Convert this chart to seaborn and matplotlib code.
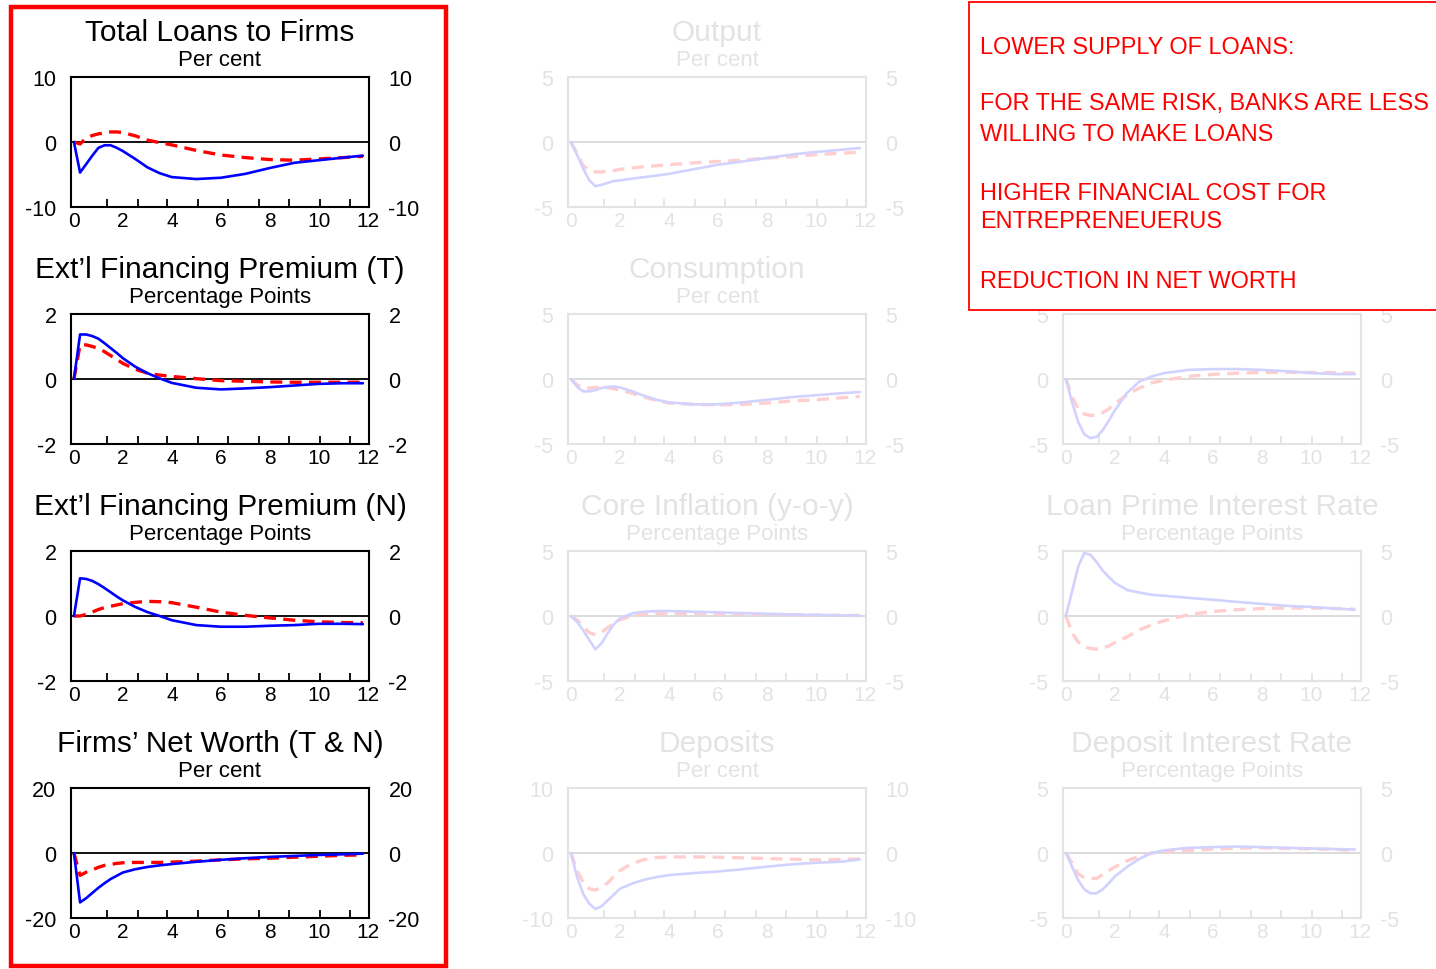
import matplotlib
matplotlib.use("Agg")
import matplotlib.pyplot as plt
import seaborn as sns
import pandas as pd
from matplotlib.patches import Rectangle

sns.set_style("white", {"xtick.bottom": True, "xtick.direction": "in"})
plt.rcParams["font.family"] = ["Liberation Sans", "DejaVu Sans"]
plt.rcParams["axes.unicode_minus"] = False

# horizon (years) at which the responses were read
quarters = [0, 0.25, 0.5, 0.75, 1, 1.25, 1.5, 1.75, 2, 2.5, 3, 3.5, 4,
            5, 6, 7, 8, 9, 10, 11, 11.8]

# column 1 (highlighted)
loans_solid = [0, -4.7, -3.4, -2.1, -0.9, -0.5, -0.5, -0.9, -1.4, -2.6, -3.9, -4.8, -5.4,
               -5.7, -5.5, -4.9, -4.0, -3.2, -2.8, -2.4, -2.1]
loans_dashed = [0, -0.3, 0.6, 1.0, 1.25, 1.4, 1.55, 1.55, 1.45, 0.95, 0.3, -0.1, -0.45,
                -1.3, -2.0, -2.4, -2.7, -2.8, -2.6, -2.4, -2.2]
premT_solid = [0, 1.37, 1.37, 1.32, 1.24, 1.1, 0.95, 0.8, 0.64, 0.38, 0.18, 0.02, -0.12,
               -0.27, -0.32, -0.29, -0.25, -0.2, -0.15, -0.13, -0.13]
premT_dashed = [0, 1.05, 1.05, 1.0, 0.94, 0.84, 0.72, 0.6, 0.48, 0.3, 0.18, 0.12, 0.08,
                0.01, -0.05, -0.07, -0.09, -0.1, -0.1, -0.1, -0.1]
premN_solid = [0, 1.16, 1.14, 1.08, 0.98, 0.86, 0.73, 0.6, 0.48, 0.28, 0.12, 0.0, -0.13,
               -0.28, -0.33, -0.33, -0.3, -0.28, -0.24, -0.24, -0.25]
premN_dashed = [0, 0.0, 0.05, 0.12, 0.2, 0.26, 0.3, 0.34, 0.38, 0.42, 0.45, 0.44, 0.41,
                0.27, 0.12, 0.02, -0.06, -0.13, -0.18, -0.2, -0.21]
networth_solid = [0, -15.2, -13.9, -12.3, -10.7, -9.3, -8.0, -7.0, -6.0, -5.0, -4.3, -3.8, -3.4,
                  -2.7, -2.1, -1.6, -1.2, -0.9, -0.6, -0.4, -0.2]
networth_dashed = [0, -6.9, -5.9, -5.2, -4.4, -3.8, -3.5, -3.2, -3.0, -2.9, -2.9, -2.9, -2.8,
                   -2.5, -2.1, -1.8, -1.6, -1.3, -1.0, -0.7, -0.6]

# column 2 (faded)
output_solid = [0, -1.0, -2.05, -2.95, -3.4, -3.3, -3.15, -3.0, -2.95, -2.82, -2.7, -2.58, -2.45,
                -2.1, -1.75, -1.5, -1.23, -0.97, -0.77, -0.6, -0.46]
output_dashed = [0, -0.9, -1.8, -2.2, -2.3, -2.3, -2.25, -2.2, -2.1, -2.0, -1.9, -1.82, -1.75,
                 -1.6, -1.5, -1.4, -1.23, -1.13, -0.97, -0.87, -0.77]
cons_solid = [0, -0.6, -0.95, -0.95, -0.85, -0.7, -0.6, -0.58, -0.65, -0.95, -1.3, -1.6, -1.8,
              -1.95, -1.95, -1.8, -1.6, -1.4, -1.25, -1.1, -1.0]
cons_dashed = [0, -0.45, -0.7, -0.7, -0.65, -0.65, -0.68, -0.75, -0.85, -1.1, -1.4, -1.65, -1.85,
               -1.95, -2.0, -1.95, -1.85, -1.7, -1.6, -1.45, -1.35]
infl_solid = [0, -0.45, -1.1, -1.85, -2.56, -2.1, -1.33, -0.64, -0.18, 0.2, 0.33, 0.38, 0.38,
              0.33, 0.28, 0.22, 0.17, 0.12, 0.08, 0.05, 0.03]
infl_dashed = [0, -0.3, -0.8, -1.28, -1.45, -1.25, -0.9, -0.56, -0.3, 0.03, 0.13, 0.18, 0.2,
               0.2, 0.18, 0.15, 0.12, 0.1, 0.07, 0.05, 0.04]
dep_solid = [0, -3.7, -6.3, -7.8, -8.6, -8.2, -7.3, -6.4, -5.5, -4.7, -4.1, -3.7, -3.4,
             -3.1, -2.85, -2.5, -2.1, -1.75, -1.5, -1.35, -1.0]
dep_dashed = [0, -2.7, -4.5, -5.5, -5.7, -5.3, -4.6, -3.6, -2.7, -1.6, -1.0, -0.7, -0.6,
              -0.6, -0.65, -0.75, -0.85, -0.95, -1.05, -1.0, -0.9]

# column 3 (faded, the top one is hidden under the note)
hidden_solid = [0, -1.8, -3.3, -4.25, -4.55, -4.45, -3.95, -3.2, -2.4, -1.06, -0.2, 0.2, 0.45,
                0.7, 0.76, 0.77, 0.7, 0.6, 0.46, 0.38, 0.38]
hidden_dashed = [0, -1.37, -2.28, -2.7, -2.8, -2.8, -2.6, -2.3, -1.9, -1.2, -0.7, -0.3, -0.1,
                 0.2, 0.36, 0.45, 0.5, 0.52, 0.5, 0.48, 0.45]
lprime_solid = [0, 1.9, 3.8, 4.85, 4.7, 4.15, 3.5, 3.0, 2.55, 2.0, 1.8, 1.63, 1.56,
                1.4, 1.25, 1.08, 0.93, 0.78, 0.7, 0.57, 0.49]
lprime_dashed = [0, -1.3, -2.0, -2.36, -2.5, -2.55, -2.5, -2.3, -2.05, -1.6, -1.07, -0.67, -0.37,
                 0.1, 0.35, 0.49, 0.57, 0.62, 0.62, 0.57, 0.52]
deprate_solid = [0, -1.06, -2.1, -2.8, -3.1, -3.1, -2.8, -2.33, -1.8, -1.06, -0.45, 0.0, 0.2,
                 0.4, 0.45, 0.5, 0.45, 0.4, 0.35, 0.3, 0.27]
deprate_dashed = [0, -0.75, -1.6, -1.9, -1.97, -1.95, -1.67, -1.36, -1.06, -0.6, -0.24, 0.0, 0.1,
                  0.2, 0.3, 0.38, 0.4, 0.35, 0.32, 0.27, 0.2]

note_lines = ["LOWER SUPPLY OF LOANS:", "FOR THE SAME RISK, BANKS ARE LESS",
              "WILLING TO MAKE LOANS", "HIGHER FINANCIAL COST FOR",
              "ENTREPRENEUERUS", "REDUCTION IN NET WORTH"]

W, H = 1436, 970
fig = plt.figure(figsize=(W / 100, H / 100), dpi=100)

COL_LEFT = [71, 568, 1063]
ROW_TOP = [78, 315, 552, 789]
AX_W, AX_H = 298, 130
minor_x = [0, 1.35, 2.6, 3.82, 5.05, 6.3, 7.55, 8.8, 10.03, 11.26]


def panel(row, col, title, unit, lim, solid, dashed, faded=False):
    rect = [COL_LEFT[col] / W, 1 - (ROW_TOP[row] + AX_H) / H, AX_W / W, AX_H / H]
    ax = fig.add_axes(rect)
    fg = "#e3e3e3" if faded else "black"
    blue = "#d2d2ff" if faded else "#0000ff"
    red = "#ffcfcf" if faded else "#ff0000"
    zero = "#d9d9d9" if faded else "black"

    df = pd.DataFrame({"t": quarters, "solid": solid, "dashed": dashed})
    ax.axhline(0, color=zero, lw=1.3, zorder=1)
    sns.lineplot(data=df, x="t", y="solid", ax=ax, color=blue, lw=1.9, zorder=3)
    sns.lineplot(data=df, x="t", y="dashed", ax=ax, color=red, lw=2.4,
                 linestyle=(0, (3.6, 2.2)), zorder=2)

    ax.set_xlim(-0.12, 12.05)
    ax.set_ylim(-lim, lim)
    ax.set_xlabel("")
    ax.set_ylabel("")
    ax.set_xticks(range(0, 13, 2))
    ax.set_xticks(minor_x, minor=True)
    ax.set_yticks([-lim, 0, lim])
    ax.tick_params(axis="x", which="major", bottom=True, length=0, pad=3,
                   labelsize=15, labelcolor=fg)
    ax.tick_params(axis="x", which="minor", bottom=True, direction="in", length=6,
                   width=1.3, color=fg)
    ax.tick_params(axis="y", left=False, right=False, labelleft=True,
                   labelsize=15.5, labelcolor=fg, pad=7)
    sec = ax.secondary_yaxis("right")
    sec.set_yticks([-lim, 0, lim])
    sec.tick_params(axis="y", length=0, labelsize=15.5, labelcolor=fg, pad=14)
    sec.spines["right"].set_visible(False)
    for s in ax.spines.values():
        s.set_color(fg)
        s.set_linewidth(1.5)
        s.set_zorder(5)

    if title:
        ax.text(0.5, 1 + 45 / AX_H, title, transform=ax.transAxes, ha="center",
                va="center", fontsize=21.5, color=fg)
    ax.text(0.5, 1 + 17 / AX_H, unit, transform=ax.transAxes, ha="center",
            va="center", fontsize=16, color=fg)
    return ax


panel(0, 0, "Total Loans to Firms", "Per cent", 10, loans_solid, loans_dashed)
panel(1, 0, "Ext\u2019l Financing Premium (T)", "Percentage Points", 2, premT_solid, premT_dashed)
panel(2, 0, "Ext\u2019l Financing Premium (N)", "Percentage Points", 2, premN_solid, premN_dashed)
panel(3, 0, "Firms\u2019 Net Worth (T & N)", "Per cent", 20, networth_solid, networth_dashed)

panel(0, 1, "Output", "Per cent", 5, output_solid, output_dashed, faded=True)
panel(1, 1, "Consumption", "Per cent", 5, cons_solid, cons_dashed, faded=True)
panel(2, 1, "Core Inflation (y-o-y)", "Percentage Points", 5, infl_solid, infl_dashed, faded=True)
panel(3, 1, "Deposits", "Per cent", 10, dep_solid, dep_dashed, faded=True)

panel(1, 2, "", "", 5, hidden_solid, hidden_dashed, faded=True)
panel(2, 2, "Loan Prime Interest Rate", "Percentage Points", 5, lprime_solid, lprime_dashed, faded=True)
panel(3, 2, "Deposit Interest Rate", "Percentage Points", 5, deprate_solid, deprate_dashed, faded=True)

# red frame around the first column
fig.add_artist(Rectangle((11 / W, 1 - 967 / H), 435 / W, 959 / H, transform=fig.transFigure,
                         fill=False, edgecolor="#ff0000", lw=3.2, zorder=10))

# note box
fig.add_artist(Rectangle((969 / W, 1 - 311 / H), 480 / W, 308 / H, transform=fig.transFigure,
                         facecolor="white", edgecolor="#ff0000", lw=1.3, zorder=10,
                         clip_on=False))
note_y = [47, 104, 135, 194, 222, 281]
for txt, yy in zip(note_lines, note_y):
    fig.text(980 / W, 1 - yy / H, txt, ha="left", va="center", fontsize=16.9,
             color="#ff0000", zorder=11)

fig.savefig("out.png", dpi=100)
